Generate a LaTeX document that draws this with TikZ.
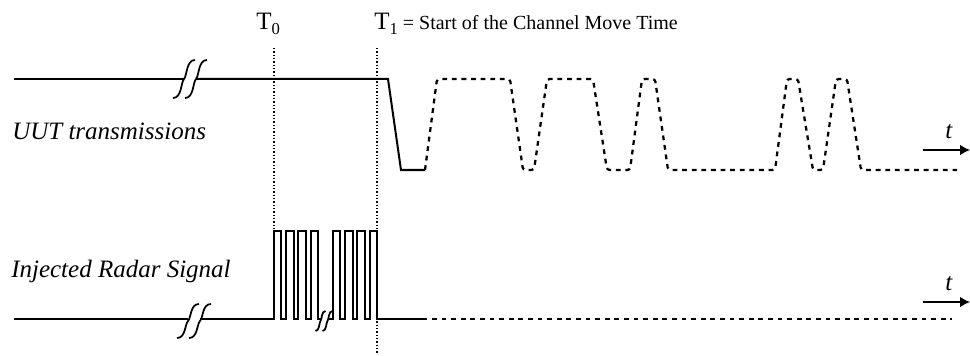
\documentclass[tikz,border=0pt]{standalone}
\usepackage{fontspec}
\setmainfont{Liberation Serif}
\usetikzlibrary{arrows.meta}
\usetikzlibrary{positioning}
\tikzset{>={Latex[length=7.5pt,width=8pt]}}
\tikzset{
    sig/.style={line width=1.5pt},
    sigdash/.style={line width=1.7pt, dash pattern=on 3.6pt off 3.6pt, rounded corners=2pt},
    dotline/.style={line width=1pt, dash pattern=on 1pt off 1.5pt},
    lab/.style={font=\fontsize{18.75}{22}\selectfont\itshape, anchor=base west, inner sep=0},
    tlab/.style={font=\fontsize{18.75}{22}\selectfont, anchor=base west, inner sep=0},
}
\newcommand{\sigbreak}[4]{\draw[line width=1.3pt] ({#1-#3},{#2+#4}) .. controls ({#1-0.2*#3},{#2+#4}) and ({#1-0.3*#3},{#2+0.2*#4}) .. (#1,#2) .. controls ({#1+0.3*#3},{#2-0.2*#4}) and ({#1+0.2*#3},{#2-#4}) .. ({#1+#3},{#2-#4});}

\begin{document}
\begin{tikzpicture}[x=0.75pt, y=-0.75pt]
    \useasboundingbox (0,0) rectangle (970,356);
    \node[tlab] (tzero) at (256,30) {T\raisebox{-3.5pt}{\fontsize{12.5}{12}\selectfont 0}};
    \node[tlab] (tone) at (374,30) {T\raisebox{-3.5pt}{\fontsize{12.5}{12}\selectfont 1}\fontsize{15}{18}\selectfont{} = Start of the Channel Move Time};
    \node[lab] (uut) at (12,140) {UUT transmissions};
    \node[lab] (radar) at (11,277) {Injected Radar Signal};
    \coordinate (t0a) at (274,48);
    \coordinate (t0b) at (274,231);
    \coordinate (t1a) at (377,48);
    \coordinate (t1b) at (377,354);
    \draw[dotline] (t0a) -- (t0b);
    \draw[dotline] (t1a) -- (t1b);

    \draw[sig] (14,79) -- (184,79);
    \sigbreak{184}{79}{11}{19}
    \sigbreak{196}{79}{11}{19}
    \draw[sig] (196,79) -- (388,79) -- (401,170) -- (425,170);
    \draw[sigdash] (425,170) -- (437,79) -- (510,79) -- (523,170) -- (534,170) -- (547,79) -- (593,79) -- (607,170) -- (630,170) -- (642,79) -- (655,79) -- (668,170) -- (775,170) -- (787,79) -- (798,79) -- (813,170) -- (823,170) -- (836,79) -- (847,79) -- (861,170) -- (957,170);
    \node[lab] (ttop) at (945,139) {t};
    \draw[->, line width=1.2pt] (923,150) -- (970,150);

    \draw[sig] (14,319) -- (188,319);
    \sigbreak{188}{321}{11}{17}
    \sigbreak{200}{321}{11}{17}
    \draw[sig] (200,319) \foreach \k in {0,...,3} { -- ({274+\k*12.2},319) -- ({274+\k*12.2},231) -- ({281.4+\k*12.2},231) -- ({281.4+\k*12.2},319) } -- (320.5,319);
    \sigbreak{320.5}{321}{5}{10}
    \sigbreak{327.5}{321}{5}{10}
    \draw[sig] (327.5,319) \foreach \k in {0,...,3} { -- ({333+\k*12.2},319) -- ({333+\k*12.2},231) -- ({340.4+\k*12.2},231) -- ({340.4+\k*12.2},319) } -- (427,319);
    \draw[sigdash] (432,319) -- (952,319);
    \node[lab] (tbot) at (945,290) {t};
    \draw[->, line width=1.2pt] (923,302) -- (970,302);
\end{tikzpicture}
\end{document}
